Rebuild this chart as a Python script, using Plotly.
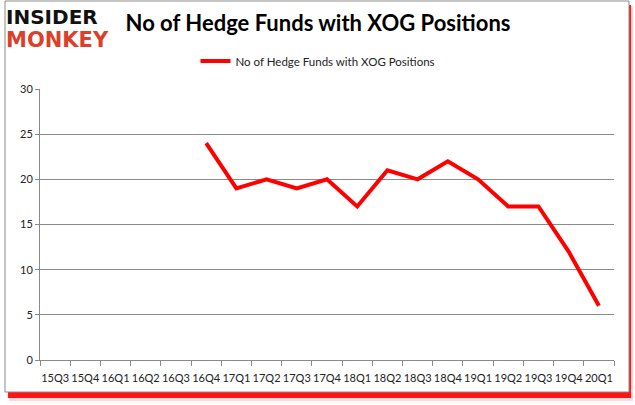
import plotly.graph_objects as go

quarters = ["15Q3", "15Q4", "16Q1", "16Q2", "16Q3", "16Q4", "17Q1", "17Q2", "17Q3", "17Q4",
            "18Q1", "18Q2", "18Q3", "18Q4", "19Q1", "19Q2", "19Q3", "19Q4", "20Q1"]
hedge_funds = [None, None, None, None, None, 24, 19, 20, 19, 20,
               17, 21, 20, 22, 20, 17, 17, 12, 6]
series_name = "No of Hedge Funds with XOG Positions"
title_text = "No of Hedge Funds with XOG Positions"

W, H = 635, 405
L, R, T, B = 40, 21, 89, 45
pw, ph = W - L - R, H - T - B


def px(x):
    return (x - L) / pw


def py(y):
    return (H - B - y) / ph


fig = go.Figure()
fig.add_trace(go.Scatter(
    x=quarters, y=hedge_funds, mode="lines", name=series_name,
    line=dict(color="#ff0000", width=4), connectgaps=False,
))

shapes = [
    # shadow
    dict(type="rect", xref="paper", yref="paper", x0=px(9), x1=px(633), y0=py(401), y1=py(6),
         line=dict(width=0), fillcolor="rgba(255,190,190,0.6)", layer="below"),
    dict(type="rect", xref="paper", yref="paper", x0=px(8), x1=px(631), y0=py(398), y1=py(5),
         line=dict(width=0), fillcolor="rgba(255,0,0,0.9)", layer="below"),
    # frame
    dict(type="rect", xref="paper", yref="paper", x0=px(5), x1=px(629), y0=py(392), y1=py(1),
         line=dict(color="#8a8a8a", width=1), fillcolor="white", layer="below"),
]

annotations = [
    dict(text="<b>INSIDER</b>", x=px(4), y=py(3), xref="paper", yref="paper",
         xanchor="left", yanchor="top", showarrow=False,
         font=dict(family="DejaVu Sans", size=20, color="#111111")),
    dict(text="<b>MONKEY</b>", x=px(4), y=py(26), xref="paper", yref="paper",
         xanchor="left", yanchor="top", showarrow=False,
         font=dict(family="DejaVu Sans", size=21, color="#dc3f2a")),
]

fig.update_layout(
    width=W, height=H,
    margin=dict(l=L, r=R, t=T, b=B, autoexpand=False),
    paper_bgcolor="white", plot_bgcolor="white",
    title=dict(text="<b>" + title_text + "</b>", x=(318) / W, xanchor="center",
               y=1 - 23 / H, yanchor="middle",
               font=dict(family="Lato", size=22, color="#000000")),
    showlegend=True,
    legend=dict(orientation="h", x=px(318), xanchor="center", y=py(61), yanchor="middle",
                font=dict(family="Lato", size=11.5, color="#222222"), bgcolor="rgba(0,0,0,0)"),
    xaxis=dict(type="category", categoryorder="array", categoryarray=quarters,
               tickson="boundaries", ticks="outside", ticklen=5, tickcolor="#8a8a8a",
               showline=True, linecolor="#8a8a8a", linewidth=1, showgrid=False,
               tickangle=0, automargin=False, ticklabelstandoff=8,
               tickfont=dict(family="Lato", size=11, color="#222222"),
               range=[-0.5, len(quarters) - 0.5], fixedrange=True),
    yaxis=dict(range=[0, 30], dtick=5, tick0=0, ticks="outside", ticklen=4, tickcolor="#8a8a8a",
               showline=True, linecolor="#8a8a8a", linewidth=1, automargin=False,
               showgrid=True, gridcolor="#8a8a8a", gridwidth=1, zeroline=False,
               tickfont=dict(family="Lato", size=11, color="#222222")),
    shapes=shapes,
    annotations=annotations,
)

fig.write_html("out.html", config={"displayModeBar": False},
               post_script="document.body.style.margin='0px';document.body.style.overflow='hidden';")
